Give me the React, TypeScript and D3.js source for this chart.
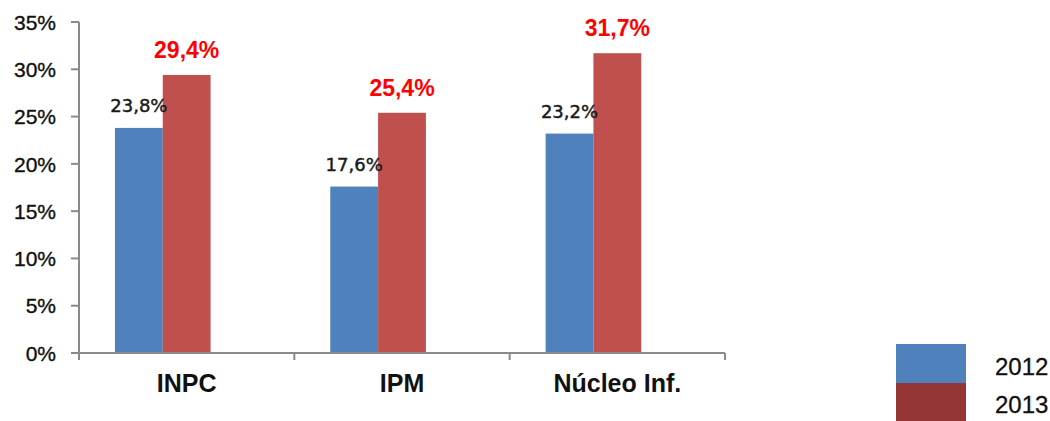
import React from "react";
import * as d3 from "d3";

const categories = ["INPC", "IPM", "Núcleo Inf."];
const seriesNames = ["2012", "2013"];
const values2012 = [23.8, 17.6, 23.2];
const values2013 = [29.4, 25.4, 31.7];
const labels2012 = ["23,8%", "17,6%", "23,2%"];
const labels2013 = ["29,4%", "25,4%", "31,7%"];
const yTicks = [0, 5, 10, 15, 20, 25, 30, 35];

const W = 1050;
const H = 421;
const left = 79;
const right = 725;
const top = 22;
const bottom = 353;

const blue = "#4F81BD";
const red = "#C0504D";
const legendRed = "#943634";
const axisColor = "#8a8a8a";

export default function App() {
  const y = d3.scaleLinear().domain([0, 35]).range([bottom, top]);
  const x0 = d3.scaleBand<string>().domain(categories).range([left, right]).paddingInner(0).paddingOuter(0);
  // three slots per category (third slot reserved/empty as in the original)
  const x1 = d3.scaleBand<number>().domain([0, 1, 2]).range([0, x0.bandwidth()]).paddingInner(0).paddingOuter(0.752);
  const seriesVals = [values2012, values2013];
  const seriesCols = [blue, red];
  const bw = x1.bandwidth();
  const catEdges = [left, ...categories.map((c) => (x0(c) as number) + x0.bandwidth())];

  return (
    <svg width={W} height={H} style={{ position: "absolute", left: 0, top: 0, background: "#fff" }}>
      {/* bars */}
      {categories.map((c, i) =>
        seriesVals.map((vals, s) => (
          <rect
            key={c + s}
            x={(x0(c) as number) + (x1(s) as number)}
            y={y(vals[i])}
            width={bw}
            height={y(0) - y(vals[i])}
            fill={seriesCols[s]}
          />
        ))
      )}
      {/* y axis */}
      <line x1={left} x2={left} y1={top} y2={bottom} stroke={axisColor} strokeWidth={2} />
      {yTicks.map((t) => (
        <g key={t}>
          <line x1={left - 8} x2={left} y1={y(t)} y2={y(t)} stroke={axisColor} strokeWidth={2} />
          <text
            x={56}
            y={y(t)}
            dy="0.37em"
            textAnchor="end"
            fontFamily="'Liberation Sans', Arial, sans-serif"
            fontSize={21}
            fill="#111"
            stroke="#111"
            strokeWidth={0.35}
          >
            {t}%
          </text>
        </g>
      ))}
      {/* x axis */}
      <line x1={left} x2={right} y1={bottom} y2={bottom} stroke={axisColor} strokeWidth={2} />
      {catEdges.map((e, i) => (
        <line key={i} x1={e} x2={e} y1={bottom} y2={bottom + 7} stroke={axisColor} strokeWidth={2} />
      ))}
      {categories.map((c) => (
        <text
          key={c}
          x={(x0(c) as number) + x0.bandwidth() / 2}
          y={392}
          textAnchor="middle"
          fontFamily="'Liberation Sans', Arial, sans-serif"
          fontWeight="bold"
          fontSize={25}
          fill="#111"
        >
          {c}
        </text>
      ))}
      {/* value labels */}
      {categories.map((c, i) => (
        <g key={"lab" + c}>
          <text
            x={(x0(c) as number) + (x1(0) as number) + bw / 2}
            y={y(values2012[i]) - 16}
            textAnchor="middle"
            fontFamily="'DejaVu Sans', Verdana, sans-serif"
            fontSize={18}
            fill="#1a1a1a"
            stroke="#1a1a1a"
            strokeWidth={0.45}
          >
            {labels2012[i]}
          </text>
          <text
            x={(x0(c) as number) + (x1(1) as number) + bw / 2}
            y={y(values2013[i]) - 17}
            textAnchor="middle"
            fontFamily="'Liberation Sans', Arial, sans-serif"
            fontWeight="bold"
            fontSize={23}
            fill="#FF0000"
          >
            {labels2013[i]}
          </text>
        </g>
      ))}
      {/* legend */}
      <rect x={896} y={344} width={70} height={39} fill={blue} />
      <rect x={896} y={383} width={70} height={40} fill={legendRed} />
      {seriesNames.map((n, i) => (
        <text
          key={n}
          x={995}
          y={375 + i * 38}
          fontFamily="'Liberation Sans', Arial, sans-serif"
          fontSize={24}
          fill="#111"
          stroke="#111"
          strokeWidth={0.3}
        >
          {n}
        </text>
      ))}
    </svg>
  );
}
